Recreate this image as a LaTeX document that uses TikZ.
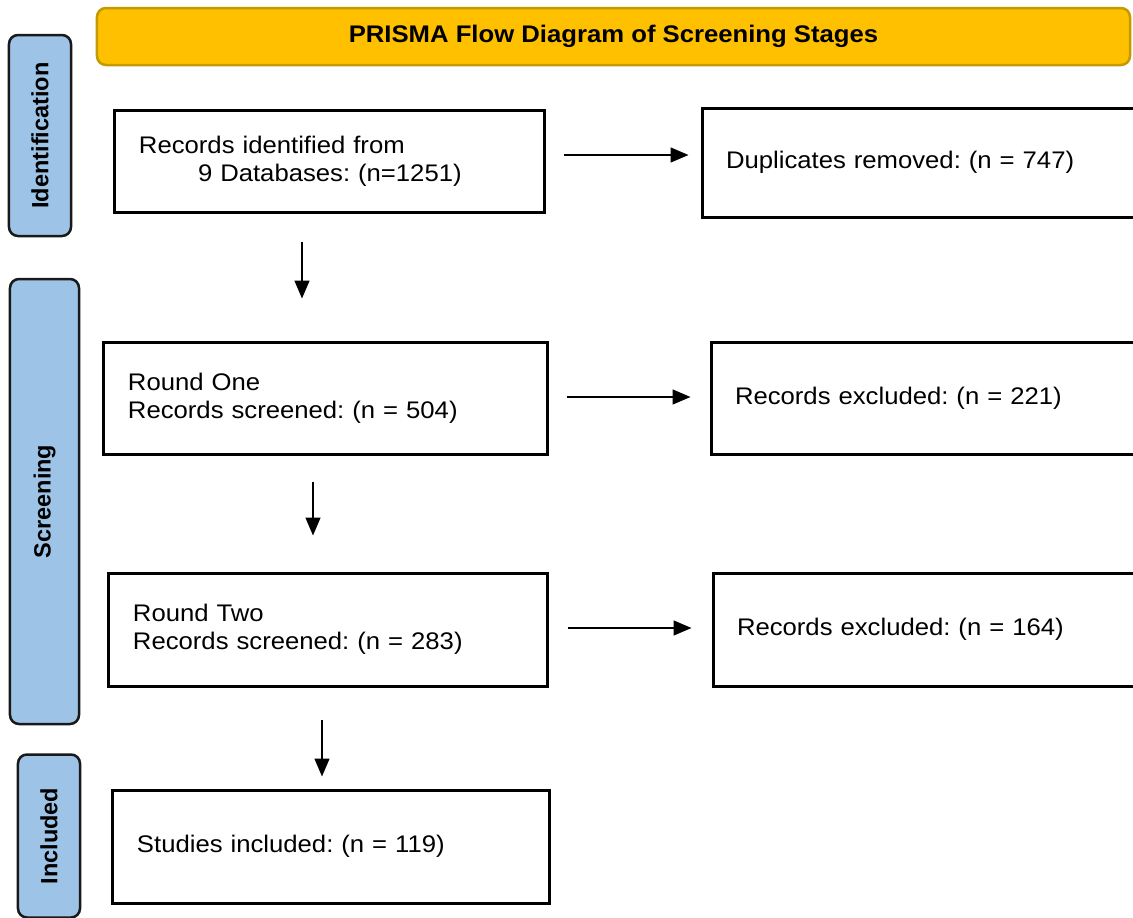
\documentclass[tikz,border=0pt]{standalone}
\usepackage{fontspec}
\setmainfont[FakeStretch=1.07]{Liberation Sans}
\newfontfamily\sidefont{Liberation Sans}
\usetikzlibrary{arrows.meta}
\definecolor{headfill}{HTML}{FFC000}
\definecolor{headline}{HTML}{C49A00}
\definecolor{stagefill}{HTML}{9DC3E6}
\frenchspacing
\begin{document}
\begin{tikzpicture}[x=1bp,y=-1bp,
  box/.style={draw,line width=3bp,inner xsep=24bp,align=left,
    font=\fontsize{24bp}{28bp}\selectfont},
  stage/.style={draw=black!90,fill=stagefill,line width=2.5bp,rounded corners=9bp,
    rotate=90,font=\sidefont\bfseries\fontsize{23.5bp}{27bp}\selectfont},
  flow/.style={line width=1.5bp,-{Triangle[width=15bp,length=18bp]}}]
\clip (0,0) rectangle (1133,918);
\fill[white] (0,0) rectangle (1133,918);
% title bar
\node (title) [draw=headline,fill=headfill,line width=2.5bp,rounded corners=9bp,
  minimum width=1033bp,minimum height=57bp,
  font=\bfseries\fontsize{24bp}{28bp}\selectfont] at (613.5,36.5)
  {PRISMA Flow Diagram of Screening Stages};
% stages
\node (ident) [stage,minimum width=201bp,minimum height=62bp] at (40,135.5) {Identification};
\node (screen) [stage,minimum width=445bp,minimum height=69bp] at (44.5,501.5) {Screening};
\node (incl) [stage,minimum width=163bp,minimum height=62bp] at (49,836) {Included};
% left column
\node (b1) [box,text width=381bp,minimum height=102bp] at (329.5,161)
  {Records identified from\\\hspace*{59bp}9 Databases: (n=1251)};
\node (b2) [box,text width=395bp,minimum height=112bp] at (325.5,398)
  {Round One\\Records screened: (n = 504)};
\node (b3) [box,text width=390bp,minimum height=113bp] at (328,629.5)
  {Round Two\\Records screened: (n = 283)};
\node (b4) [box,text width=388bp,minimum height=113bp] at (331,846.5)
  {Studies included: (n = 119)};
% right column
\node (d1) [box,text width=395bp,minimum height=109bp] at (923.5,162.5)
  {Duplicates removed: (n = 747)};
\node (e1) [box,text width=386bp,minimum height=112bp] at (928,398)
  {Records excluded: (n = 221)};
\node (e2) [box,text width=384bp,minimum height=113bp] at (929,629.5)
  {Records excluded: (n = 164)};
% arrows
\draw[flow,shorten <=18bp,shorten >=12bp] ([yshift=6bp]b1.east) -- ([yshift=6bp]b1.east -| d1.west);
\draw[flow,shorten <=18bp,shorten >=19bp] ([yshift=1bp]b2.east) -- ([yshift=1bp]b2.east -| e1.west);
\draw[flow,shorten <=19bp,shorten >=20bp] ([yshift=1.5bp]b3.east) -- ([yshift=1.5bp]b3.east -| e2.west);
\draw[flow,shorten <=28bp,shorten >=42bp] ([xshift=-27.5bp]b1.south) -- ([xshift=-27.5bp]b1.south |- b2.north);
\draw[flow,shorten <=26bp,shorten >=36bp] ([xshift=-12.5bp]b2.south) -- ([xshift=-12.5bp]b2.south |- b3.north);
\draw[flow,shorten <=32bp,shorten >=12bp] ([xshift=-6bp]b3.south) -- ([xshift=-6bp]b3.south |- b4.north);
\end{tikzpicture}
\end{document}
